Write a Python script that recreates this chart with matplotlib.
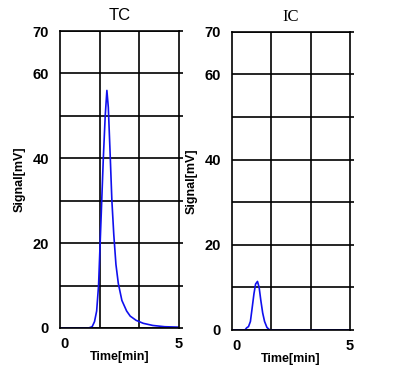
import matplotlib
matplotlib.use('Agg')
import matplotlib.pyplot as plt
from matplotlib.ticker import FixedLocator

# TC chromatogram (time [min], signal [mV])
tc_time = [0.0, 1.2, 1.35, 1.45, 1.54, 1.62, 1.72, 1.82, 1.9, 1.97, 2.03, 2.1, 2.18, 2.26,
           2.35, 2.45, 2.6, 2.8, 2.95, 3.2, 3.5, 3.9, 4.4, 5.0]
tc_signal = [0.0, 0.0, 0.3, 1.5, 4.0, 10.0, 25.0, 40.0, 50.0, 56.0, 52.0, 42.0, 30.0, 22.0,
             15.0, 10.5, 6.5, 4.0, 2.8, 1.8, 1.1, 0.6, 0.3, 0.2]

# IC chromatogram
ic_time = [0.0, 0.55, 0.62, 0.7, 0.78, 0.85, 0.93, 1.0, 1.08, 1.15, 1.22, 1.3, 1.38, 1.48,
           1.6, 5.0]
ic_signal = [0.0, 0.0, 0.5, 0.8, 2.0, 5.0, 8.5, 10.8, 11.4, 10.0, 7.0, 4.0, 2.0, 0.6,
             0.0, 0.0]

y_ticks = [0, 10, 20, 30, 40, 50, 60, 70]
y_labels = ['0', '', '20', '', '40', '', '60', '70']
x_grid = [5 / 3, 10 / 3]

sans = 'Liberation Sans'

fig = plt.figure(figsize=(4.0, 3.68), dpi=100)
ax1 = fig.add_axes([0.15, 0.1087, 0.2975, 0.807])
ax2 = fig.add_axes([0.58, 0.1033, 0.295, 0.81])

panels = [(ax1, tc_time, tc_signal, 'TC', 'Liberation Sans'),
          (ax2, ic_time, ic_signal, 'IC', 'Liberation Serif')]

for ax, t, s, title, title_font in panels:
    ax.plot(t, s, color='#1010ee', lw=1.2)
    ax.set_xlim(0, 5)
    ax.set_ylim(0, 70)
    ax.set_yticks(y_ticks)
    ax.set_yticklabels(y_labels, fontsize=10.5, fontweight='bold', fontfamily=sans)
    ax.set_xticks([0, 5])
    ax.set_xticklabels(['0', '5'], fontsize=10.5, fontweight='bold', fontfamily=sans)
    ax.xaxis.set_minor_locator(FixedLocator(x_grid))
    ax.grid(True, which='major', axis='y', color='black', lw=1.2)
    ax.grid(True, which='minor', axis='x', color='black', lw=1.2)
    ax.tick_params(axis='y', left=False, right=True, length=3, width=1.2, pad=5)
    ax.tick_params(axis='x', which='both', bottom=False, pad=3)
    for sp in ax.spines.values():
        sp.set_color('black')
        sp.set_linewidth(1.2)
    ax.get_xticklabels()[0].set_ha('left')
    ax.set_xlabel('Time[min]', fontsize=9, fontweight='bold', fontfamily=sans, labelpad=0)
    ax.set_ylabel('Signal[mV]', fontsize=9, fontweight='bold', fontfamily=sans, labelpad=5)
    ax.set_title(title, fontsize=12, fontfamily=title_font, pad=8)

fig.savefig('out.png', dpi=100)
